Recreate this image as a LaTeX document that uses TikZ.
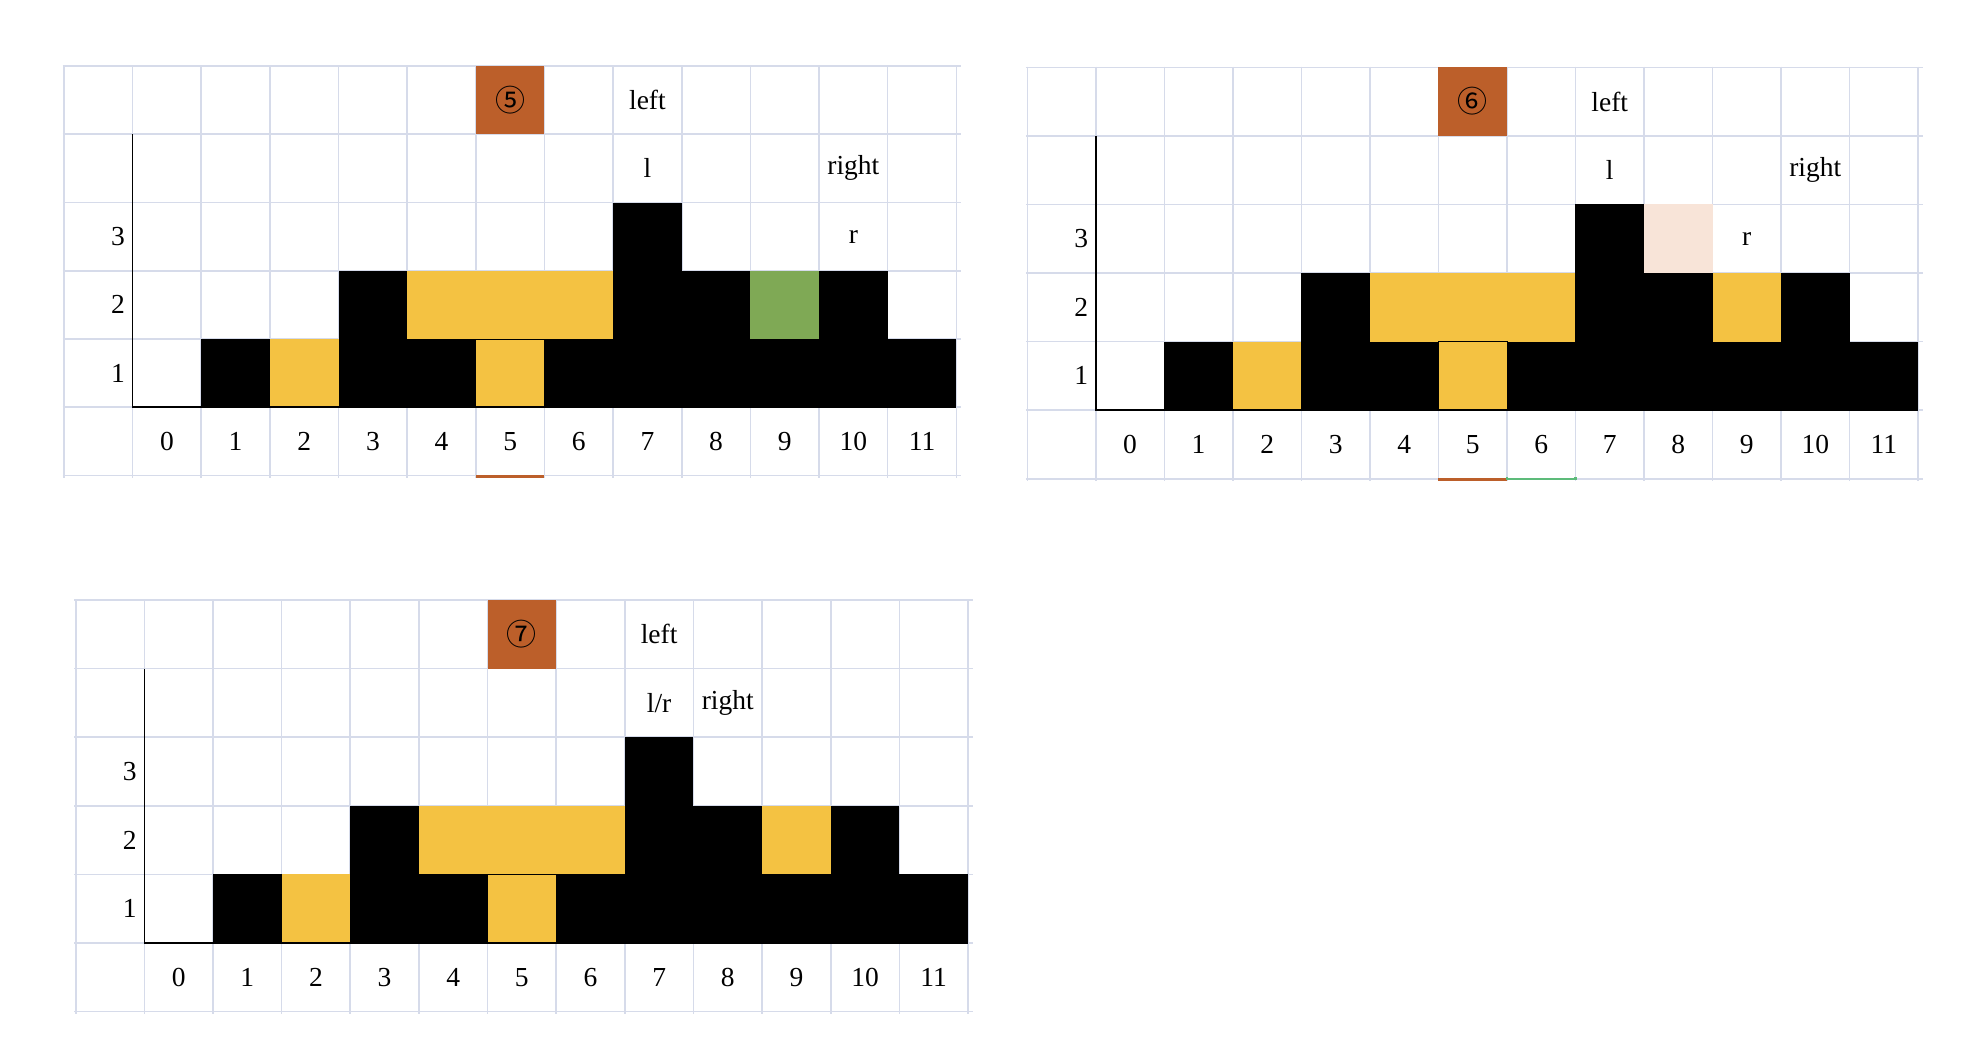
\documentclass[tikz,border=0pt]{standalone}
\usepackage{fontspec}
\setmainfont{Liberation Serif}
\newfontfamily\circfont{Noto Sans CJK SC}
\definecolor{gridc}{HTML}{D6DBEA}
\definecolor{orng}{HTML}{BC5F2A}
\definecolor{yel}{HTML}{F4C242}
\definecolor{grn}{HTML}{7FA955}
\definecolor{peach}{HTML}{F8E4D8}
\definecolor{grnline}{HTML}{5DBB7A}
\tikzset{
  lbl/.style={font=\fontsize{27.5}{31}\selectfont, inner sep=0pt},
  ylbl/.style={lbl, anchor=east},
  circlbl/.style={font=\fontsize{30}{34}\selectfont\circfont, inner sep=0pt},
  gridline/.style={draw=gridc, line width=1.6pt},
  axisline/.style={draw=black, line width=1.6pt},
  yelcell/.style={fill=yel},
  yelbox/.style={fill=yel, draw=black, line width=0.9pt},
  headbox/.style={fill=orng},
  underl/.style={draw=orng, line width=3pt},
  greenmark/.style={draw=grnline, line width=2.4pt},
}
\newcommand\drawpanel[3]{% #1 prefix, #2 circled number, #3 extra fills
  \foreach \i in {0,...,13} \draw[gridline] (\i,-0.01) -- (\i,6.03);
  \foreach \j in {0,...,6} \draw[gridline] (-0.02,\j) -- (13.07,\j);
  #3
  \foreach \i/\h in {0/0,1/1,2/0,3/2,4/1,5/0,6/1,7/3,8/2,9/1,10/2,11/1} {
    \ifnum\h>0 \fill[black] (\i+1,5) rectangle (\i+2,5-\h);\fi
    \node[lbl] (#1x\i) at (\i+1.5,5.5) {\i};
  }
  \fill[yelcell] (3,4) rectangle (4,5);
  \fill[yelcell] (5,3) rectangle (8,4);
  \filldraw[yelbox] (6,4) rectangle (7,5);
  \draw[axisline] (1,1) -- (1,5) -- (13,5);
  \foreach \k in {1,2,3} \node[ylbl] (#1y\k) at (0.89,5.5-\k) {\k};
  \fill[headbox] (6,0) rectangle (7,1);
  \node[circlbl] (#1num) at (6.5,0.5) {#2};
  \node[lbl] (#1left) at (8.5,0.5) {left};
}
\begin{document}
\begin{tikzpicture}[x=1pt,y=-1pt]
\useasboundingbox (0,0) rectangle (1982,1050);
% panel 5
\begin{scope}[shift={(64pt,-66pt)}, x=68.64pt, y=-68.25pt]
  \drawpanel{a}{⑤}{\fill[grn] (10,3) rectangle (11,4);}
  \node[lbl] (al) at (8.5,1.5) {l};
  \node[lbl] (aright) at (11.5,1.5) {right};
  \node[lbl] (ar) at (11.5,2.5) {r};
  \draw[underl] (6,6.015) -- (7,6.015);
\end{scope}
% panel 6
\begin{scope}[shift={(1027.3pt,-67.3pt)}, x=68.52pt, y=-68.57pt]
  \drawpanel{b}{⑥}{\fill[peach] (9,2) rectangle (10,3); \fill[yel] (10,3) rectangle (11,4);}
  \node[lbl] (bl) at (8.5,1.5) {l};
  \node[lbl] (bright) at (11.5,1.5) {right};
  \node[lbl] (br) at (10.5,2.5) {r};
  \draw[underl] (6,6.012) -- (7,6.012);
  \draw[greenmark] (7,5.975) -- (7,6.0) -- (8,6.0) -- (8,5.975);
\end{scope}
% panel 7
\begin{scope}[shift={(75.7pt,-600pt)}, x=68.64pt, y=-68.6pt]
  \drawpanel{c}{⑦}{\fill[yel] (10,3) rectangle (11,4);}
  \node[lbl] (clr) at (8.5,1.5) {l/r};
  \node[lbl] (cright) at (9.5,1.5) {right};
\end{scope}
\end{tikzpicture}
\end{document}
